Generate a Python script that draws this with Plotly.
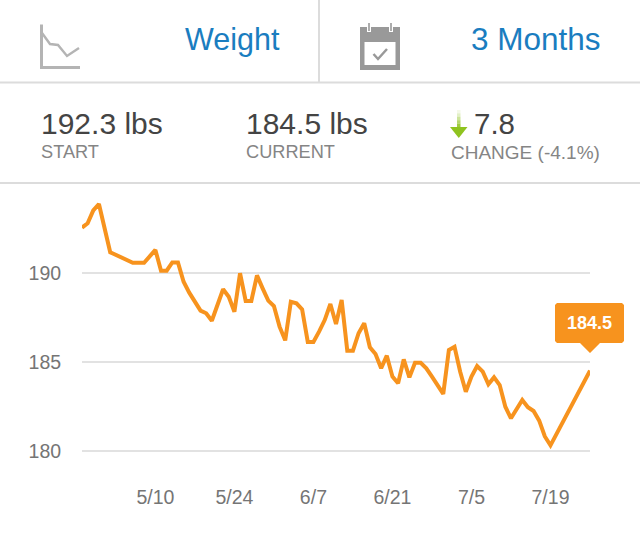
import pandas as pd
import plotly.graph_objects as go

START_DATE = "2014-04-27"
DAY_OFFSETS = [0,1,2,3,5,9,11,13,14,15,16,17,18,19,21,22,23,25,26,27,28,29,30,31,32,33,34,35,36,37,38,39,
               40,41,42,43,44,45,46,47,48,49,50,51,52,53,54,55,56,57,58,59,60,61,62,63,64,65,66,67,68,69,
               70,71,72,73,74,75,76,78,79,80,81,82,83,90]
WEIGHTS = [192.53,192.78,193.5,193.86,191.15,190.56,190.56,191.28,190.11,190.11,190.58,190.58,189.49,188.88,
           187.87,187.72,187.3,189.07,188.65,187.81,189.97,188.41,188.41,189.85,189.12,188.43,188.13,186.97,
           186.2,188.37,188.28,187.94,186.11,186.11,186.69,187.34,188.24,187.12,188.47,185.62,185.62,186.6,
           187.16,185.81,185.43,184.63,185.34,184.16,183.79,185.13,184.12,184.94,184.94,184.63,184.16,183.69,
           183.19,185.66,185.84,184.44,183.31,184.16,184.76,184.44,183.73,184.12,183.69,182.47,181.82,182.85,
           182.44,182.23,181.69,180.8,180.3,184.5]
X_TICK_DATES = ["2014-05-10","2014-05-24","2014-06-07","2014-06-21","2014-07-05","2014-07-19"]
X_TICK_LABELS = ["5/10","5/24","6/7","6/21","7/5","7/19"]
Y_TICKS = [180,185,190]

W, H = 640, 542
FONT = "Liberation Sans"
ORANGE = "#f7931e"
BLUE = "#1a7dc0"
DARK = "#444444"
SOFT = "#858585"
RULE = "#dcdcdc"

def px(x): return x / W
def py(y): return 1 - y / H

def path(points, close=False):
    s = "M " + " L ".join(f"{px(x):.5f},{py(y):.5f}" for x, y in points)
    return s + (" Z" if close else "")

def line_shape(points, color, width):
    return dict(type="path", xref="paper", yref="paper", path=path(points),
                line=dict(color=color, width=width), layer="above")

def fill_shape(points, color):
    return dict(type="path", xref="paper", yref="paper", path=path(points, True),
                fillcolor=color, line=dict(width=0), layer="above")

def text(x, y, s, size, color, anchor="left", weight=None):
    return dict(xref="paper", yref="paper", x=px(x), y=py(y), text=s, showarrow=False,
                xanchor=anchor, yanchor="middle", borderpad=0,
                font=dict(family=FONT, size=size, color=color, weight=weight))

dates = pd.to_datetime(START_DATE) + pd.to_timedelta(DAY_OFFSETS, unit="D")

fig = go.Figure(go.Scatter(x=dates, y=WEIGHTS, mode="lines",
                           line=dict(color=ORANGE, width=4, shape="linear"),
                           hoverinfo="skip"))

shapes = [
    line_shape([(0, 82.5), (640, 82.5)], RULE, 2),
    line_shape([(319, 0), (319, 82)], RULE, 2),
    line_shape([(0, 183), (640, 183)], RULE, 2),
    # chart icon
    line_shape([(41.5, 24.5), (41.5, 67.5), (80, 67.5)], "#b4b4b4", 3),
    line_shape([(42, 33), (50, 44), (58, 45), (67, 56), (79, 48)], "#b4b4b4", 2.4),
    # calendar icon
    fill_shape([(360, 27), (400, 27), (400, 70), (360, 70)], "#999999"),
    fill_shape([(364.5, 42), (395.5, 42), (395.5, 65), (364.5, 65)], "#ffffff"),
    line_shape([(369, 22), (369, 32)], "#ffffff", 4),
    line_shape([(391, 22), (391, 32)], "#ffffff", 4),
    line_shape([(369, 23), (369, 31)], "#999999", 1.6),
    line_shape([(391, 23), (391, 31)], "#999999", 1.6),
    line_shape([(373.5, 54), (378, 59), (387, 49)], "#999999", 2.5),
    # tooltip
    dict(type="path", xref="paper", yref="paper", layer="above", fillcolor=ORANGE, line=dict(width=0),
         path=path([(557,303),(622,303),(624,305),(624,341),(622,343),(600,343),(590,353),(580,343),
                    (557,343),(555,341),(555,305)], True)),
]
# green arrow, shaft fading upward
for i, op in enumerate([0.1, 0.25, 0.45, 0.65, 0.85]):
    shapes.append(dict(type="rect", xref="paper", yref="paper", layer="above",
                       x0=px(457), x1=px(460.5), y0=py(110 + i * 3.4), y1=py(110 + (i + 1) * 3.4),
                       fillcolor="#8fc31f", opacity=op, line=dict(width=0)))
shapes.append(fill_shape([(467.5, 127), (458.8, 138), (450, 127)], "#8fc31f"))

annotations = [
    text(183.5, 39, "Weight", 30.5, BLUE),
    text(469.5, 39, "3 Months", 31.5, BLUE),
    text(39.5, 123, "192.3 lbs", 30, DARK),
    text(244.5, 123, "184.5 lbs", 30, DARK),
    text(473, 123, "7.8", 29.5, DARK),
    text(39.5, 152, "START", 18.2, SOFT),
    text(244.5, 152, "CURRENT", 18.2, SOFT),
    text(449.5, 152, "CHANGE (-4.1%)", 19, SOFT),
    text(589, 323, "184.5", 18, "#ffffff", "center", 700),
]

fig.update_layout(
    width=W, height=H, autosize=False,
    margin=dict(l=0, r=0, t=0, b=0, autoexpand=False),
    paper_bgcolor="white", plot_bgcolor="white",
    showlegend=False, shapes=shapes, annotations=annotations,
    xaxis=dict(domain=[82 / W, 590 / W], type="date", automargin=False,
               range=[START_DATE, "2014-07-26"],
               tickmode="array", tickvals=X_TICK_DATES, ticktext=X_TICK_LABELS,
               showgrid=False, zeroline=False, showline=False,
               ticks="outside", ticklen=20, tickcolor="rgba(0,0,0,0)",
               tickfont=dict(family=FONT, size=19.5, color="#757575")),
    yaxis=dict(domain=[py(460), py(195)], automargin=False,
               range=[179.478, 194.365],
               tickmode="array", tickvals=Y_TICKS,
               showgrid=True, gridcolor="#e2e2e2", gridwidth=1.5,
               zeroline=False, showline=False,
               ticks="outside", ticklen=16, tickcolor="rgba(0,0,0,0)",
               tickfont=dict(family=FONT, size=19.5, color="#757575")),
)

fig.write_html("out.html", config=dict(displayModeBar=False),
               post_script="document.body.style.margin='0';document.body.style.overflow='hidden';")
